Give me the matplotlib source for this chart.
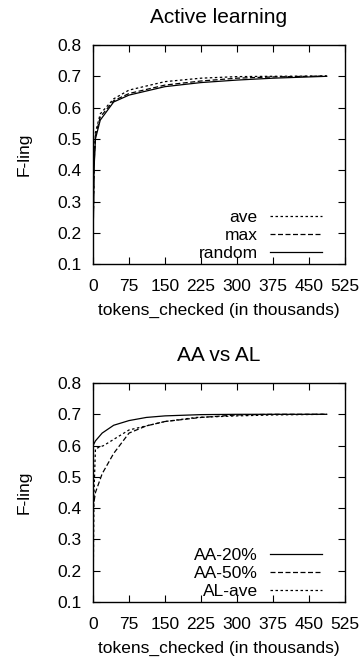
import matplotlib.pyplot as plt

plt.rcParams['font.family'] = ['Liberation Sans', 'DejaVu Sans']
plt.rcParams['font.size'] = 12.5

# Active learning
al_x = [0, 2, 5, 15, 43, 75, 150, 225, 300, 375, 487]
al_random = [0.15, 0.40, 0.50, 0.56, 0.618, 0.640, 0.667, 0.680, 0.688, 0.694, 0.700]
al_max = [0.15, 0.41, 0.51, 0.57, 0.622, 0.645, 0.672, 0.685, 0.694, 0.698, 0.701]
al_ave = [0.15, 0.42, 0.52, 0.58, 0.628, 0.656, 0.683, 0.694, 0.699, 0.700, 0.701]

# AA vs AL
aa_x = [0, 5, 19, 43, 75, 111, 150, 225, 300, 375, 487]
aa20 = [0.600, 0.615, 0.640, 0.665, 0.680, 0.690, 0.695, 0.699, 0.700, 0.700, 0.700]
aa50 = [0.400, 0.450, 0.510, 0.575, 0.640, 0.663, 0.677, 0.690, 0.698, 0.700, 0.700]
alave_x = [0, 2, 5, 22, 75, 150, 215, 300, 375, 487]
alave = [0.10, 0.45, 0.59, 0.60, 0.650, 0.677, 0.690, 0.695, 0.698, 0.700]

xticks = [0, 75, 150, 225, 300, 375, 450, 525]
yticks = [0.1, 0.2, 0.3, 0.4, 0.5, 0.6, 0.7, 0.8]

dot = (0, (2, 2))
dash = (0, (4, 2))

fig = plt.figure(figsize=(3.62, 6.57), dpi=100)
ax1 = fig.add_axes([0.257, 0.598, 0.696, 0.3335])
ax2 = fig.add_axes([0.257, 0.0837, 0.696, 0.3333])

ax1.plot(al_x, al_ave, color='black', lw=0.9, linestyle=dot, label='ave')
ax1.plot(al_x, al_max, color='black', lw=0.9, linestyle=dash, label='max')
ax1.plot(al_x, al_random, color='black', lw=0.9, label='random')
ax1.set_title('Active learning', pad=16)

ax2.plot(aa_x, aa20, color='black', lw=0.9, label='AA-20%')
ax2.plot(aa_x, aa50, color='black', lw=0.9, linestyle=dash, label='AA-50%')
ax2.plot(alave_x, alave, color='black', lw=0.9, linestyle=dot, label='AL-ave')
ax2.set_title('AA vs AL', pad=16)

for ax in (ax1, ax2):
    ax.set_xlim(0, 525)
    ax.set_ylim(0.1, 0.8)
    ax.set_xticks(xticks)
    ax.set_yticks(yticks)
    ax.tick_params(direction='in', top=True, right=True, length=5, width=0.8)
    ax.tick_params(axis='x', pad=10.5)
    ax.tick_params(axis='y', pad=8)
    ax.set_xlabel('tokens_checked (in thousands)', labelpad=6.5)
    ax.set_ylabel('F-ling', labelpad=18.5)
    for s in ax.spines.values():
        s.set_linewidth(1.0)
    ax.legend(loc='lower right', bbox_to_anchor=(0.909, 0.015), frameon=False,
              markerfirst=False, handlelength=3.0, handletextpad=0.7,
              labelspacing=0.15, borderaxespad=0, borderpad=0)

fig.savefig('out.png', dpi=100)
